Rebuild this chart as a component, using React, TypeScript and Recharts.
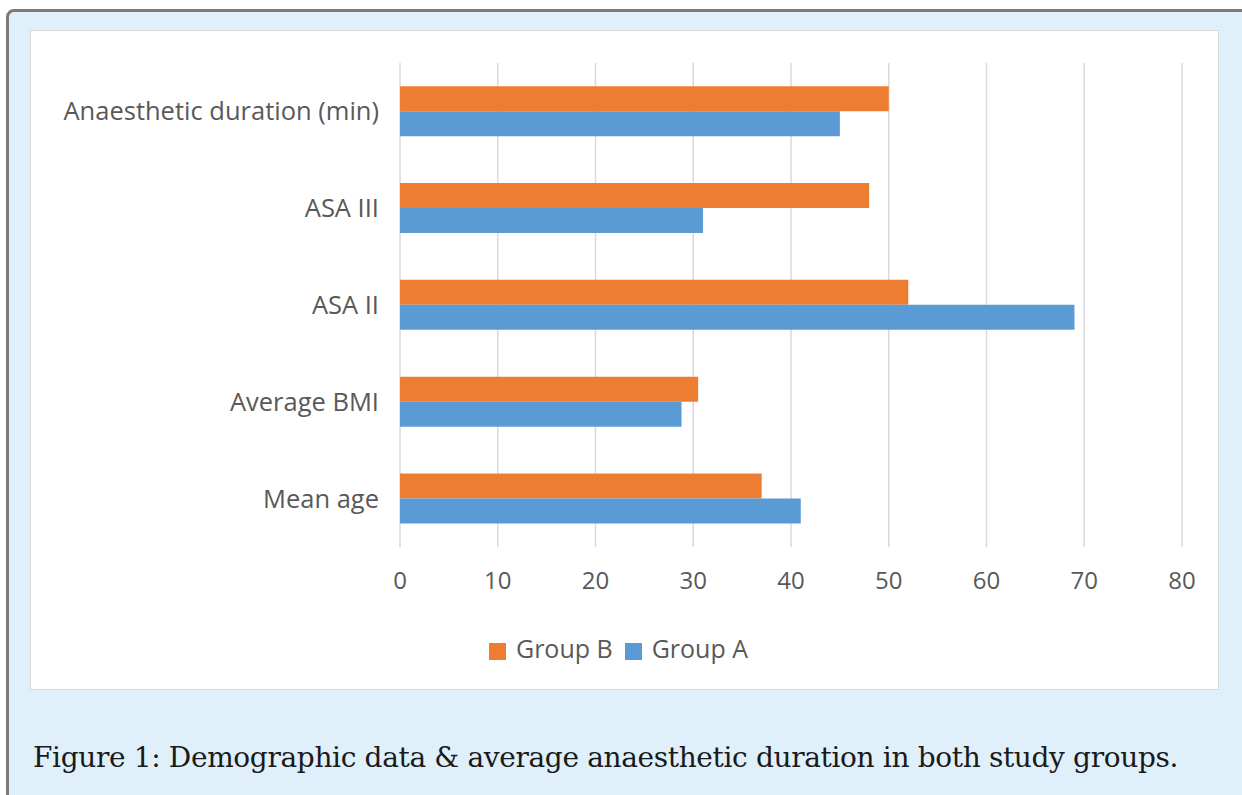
import { Bar, BarChart, CartesianGrid, Legend, XAxis, YAxis } from 'recharts';

const categories = ['Anaesthetic duration (min)', 'ASA III', 'ASA II', 'Average BMI', 'Mean age'];
const groupB = [50, 48, 52, 30.5, 37];
const groupA = [45, 31, 69, 28.8, 41];
const xTicks = [0, 10, 20, 30, 40, 50, 60, 70, 80];
const legendOrder = ['Group B', 'Group A'];

const data = categories.map((name, i) => ({ name, groupB: groupB[i], groupA: groupA[i] }));

const font = '"Open Sans", Lato, sans-serif';
const textColor = '#595959';

export default function App() {
  return (
    <div style={{ position: 'absolute', left: 0, top: 0, width: 1242, height: 795, overflow: 'hidden', background: '#fff' }}>
      <div
        style={{
          position: 'absolute',
          left: 6,
          top: 9,
          width: 1260,
          height: 820,
          background: '#dff0fa',
          border: '3px solid #7b7b7b',
          borderRadius: 8,
          boxSizing: 'border-box',
        }}
      />
      <div
        style={{
          position: 'absolute',
          left: 30,
          top: 30,
          width: 1189,
          height: 660,
          background: '#fff',
          border: '1px solid #d9d9d9',
          boxSizing: 'border-box',
        }}
      >
        <BarChart
          width={1187}
          height={658}
          data={data}
          layout="vertical"
          barCategoryGap="24%"
          barGap={0}
          margin={{ top: 32, right: 36, bottom: 82, left: 0 }}
          style={{ fontFamily: font }}
        >
          <CartesianGrid stroke="#d9d9d9" strokeWidth={1.5} horizontal={false} />
          <XAxis
            type="number"
            domain={[0, 80]}
            ticks={xTicks}
            axisLine={false}
            tickLine={false}
            tickMargin={19}
            height={60}
            tick={{ fontSize: 24, fill: textColor }}
          />
          <YAxis
            type="category"
            dataKey="name"
            width={369}
            axisLine={false}
            tickLine={false}
            tickMargin={15}
            tick={{ fontSize: 25.5, fill: textColor }}
          />
          <Legend
            verticalAlign="middle"
            align="center"
            iconType="square"
            iconSize={17}
            itemSorter={(item) => legendOrder.indexOf(String(item.value))}
            wrapperStyle={{ top: 600, left: 0, width: 1187, fontSize: 25 }}
            formatter={(value) => <span style={{ color: textColor, marginLeft: 6, marginRight: 2 }}>{value}</span>}
          />
          <Bar dataKey="groupB" name="Group B" fill="#ed7d31" isAnimationActive={false} />
          <Bar dataKey="groupA" name="Group A" fill="#5b9bd5" isAnimationActive={false} />
        </BarChart>
      </div>
      <div
        style={{
          position: 'absolute',
          left: 33,
          top: 741,
          fontFamily: '"DejaVu Serif", serif',
          fontSize: 28,
          letterSpacing: -0.35,
          color: '#1a1a1a',
          whiteSpace: 'nowrap',
        }}
      >
        Figure 1: Demographic data &amp; average anaesthetic duration in both study groups.
      </div>
    </div>
  );
}
